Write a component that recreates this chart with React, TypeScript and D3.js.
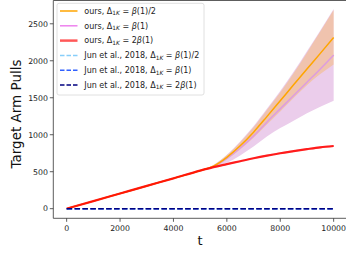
import React from "react";
import * as d3 from "d3";

const tValues = [0, 1000, 2000, 3000, 4000, 5000, 5500, 6000, 6500, 7000, 7500, 8000, 8500, 9000, 9500, 10000];
const red = [0, 102, 205, 308, 410, 515, 562, 602, 642, 682, 718, 750, 778, 805, 830, 848];
const redLow = [0, 96, 198, 300, 401, 505, 552, 592, 632, 671, 707, 738, 766, 792, 817, 835];
const redHigh = [0, 108, 212, 316, 419, 525, 572, 612, 652, 693, 729, 762, 790, 818, 843, 861];
const orange = [0, 102, 205, 308, 410, 515, 575, 695, 850, 1035, 1245, 1460, 1675, 1890, 2100, 2316];
const orangeLow = [0, 100, 203, 305, 407, 510, 563, 665, 800, 960, 1140, 1315, 1495, 1670, 1820, 1950];
const orangeHigh = [0, 104, 207, 311, 413, 520, 590, 725, 900, 1100, 1335, 1570, 1830, 2110, 2395, 2686];
const pink = [0, 102, 205, 308, 410, 515, 570, 680, 820, 985, 1170, 1350, 1530, 1710, 1890, 2077];
const pinkLow = [0, 100, 203, 305, 407, 510, 558, 620, 720, 840, 975, 1090, 1190, 1290, 1380, 1460];
const pinkHigh = [0, 104, 207, 311, 413, 520, 592, 730, 910, 1115, 1350, 1590, 1850, 2130, 2410, 2700];
const junHalf = [0, 0, 0, 0, 0, 0, 0, 0, 0, 0, 0, 0, 0, 0, 0, 0];
const junOne = [0, 0, 0, 0, 0, 0, 0, 0, 0, 0, 0, 0, 0, 0, 0, 0];
const junTwo = [0, 0, 0, 0, 0, 0, 0, 0, 0, 0, 0, 0, 0, 0, 0, 0];

const xTicks = [0, 2000, 4000, 6000, 8000, 10000];
const yTicks = [0, 500, 1000, 1500, 2000, 2500];

const FONT = "DejaVu Sans";

const x = d3.scaleLinear().domain([-500, 10500]).range([53.3, 347]);
const y = d3.scaleLinear().domain([-130, 2815]).range([218.3, 0.5]);

function lineOf(vals: number[]) {
  return d3
    .line<number>()
    .x((_, i) => x(tValues[i]))
    .y((d) => y(d))
    .curve(d3.curveMonotoneX)(vals) as string;
}
function areaOf(lo: number[], hi: number[]) {
  return d3
    .area<number>()
    .x((_, i) => x(tValues[i]))
    .y0((_, i) => y(lo[i]))
    .y1((_, i) => y(hi[i]))
    .curve(d3.curveMonotoneX)(lo) as string;
}

function Label({ prefix, suffix }: { prefix: string; suffix: string }) {
  return (
    <>
      {prefix + "Δ"}
      <tspan fontSize={5.9} dy={1.7}>1</tspan>
      <tspan fontSize={5.9} fontStyle="italic">K</tspan>
      <tspan dy={-1.7}>{" = "}</tspan>
      {suffix.startsWith("2") ? "2" : ""}
      <tspan fontStyle="italic">β</tspan>
      {suffix.replace(/^2?β/, "")}
    </>
  );
}

const legendItems = [
  { color: "orange", dash: "", w: 1.5, op: 1, prefix: "ours, ", suffix: "β(1)/2" },
  { color: "violet", dash: "", w: 1.5, op: 1, prefix: "ours, ", suffix: "β(1)" },
  { color: "red", dash: "", w: 2.5, op: 0.65, prefix: "ours, ", suffix: "2β(1)" },
  { color: "#87cefa", dash: "4.5,2", w: 1.5, op: 1, prefix: "Jun et al., 2018, ", suffix: "β(1)/2" },
  { color: "#3060ff", dash: "4.5,2", w: 1.5, op: 1, prefix: "Jun et al., 2018, ", suffix: "β(1)" },
  { color: "#000080", dash: "4.5,2", w: 1.5, op: 1, prefix: "Jun et al., 2018, ", suffix: "2β(1)" },
];

export default function App() {
  return (
    <svg
      width={346}
      height={253}
      style={{ position: "absolute", left: 0, top: 0, background: "white" }}
      fontFamily={FONT}
    >
      <rect x={0} y={0} width={346} height={253} fill="white" />
      {/* bands */}
      <path d={areaOf(pinkLow, pinkHigh)} fill="#ebcdeb" />
      <path d={areaOf(orangeLow, orangeHigh)} fill="orange" opacity={0.26} />
      <path d={areaOf(redLow, redHigh)} fill="red" opacity={0.3} />
      {/* lines */}
      <path d={lineOf(pink)} fill="none" stroke="#dd9ce0" strokeWidth={1.5} />
      <path d={lineOf(orange)} fill="none" stroke="orange" strokeWidth={1.5} />
      <path d={lineOf(red)} fill="none" stroke="red" strokeWidth={2.2} opacity={0.85} />
      <path d={lineOf(junHalf)} fill="none" stroke="#87cefa" strokeWidth={1.5} strokeDasharray="5.5,2.4" />
      <path d={lineOf(junOne)} fill="none" stroke="#3060ff" strokeWidth={1.5} strokeDasharray="5.5,2.4" />
      <path d={lineOf(junTwo)} fill="none" stroke="#000080" strokeWidth={1.5} strokeDasharray="5.5,2.4" />

      {/* spines */}
      <line x1={53.3} x2={53.3} y1={0.5} y2={218.3} stroke="#333" strokeWidth={0.8} />
      <line x1={53.3} x2={347} y1={218.3} y2={218.3} stroke="#333" strokeWidth={0.8} />
      <line x1={53.3} x2={347} y1={0.5} y2={0.5} stroke="#333" strokeWidth={0.8} />

      {/* x ticks */}
      {xTicks.map((t) => (
        <g key={t}>
          <line x1={x(t)} x2={x(t)} y1={218.3} y2={221.8} stroke="#333" strokeWidth={0.8} />
          <text x={x(t)} y={231} fontSize={7.8} textAnchor="middle" fill="#222">
            {t}
          </text>
        </g>
      ))}
      {/* y ticks */}
      {yTicks.map((t) => (
        <g key={t}>
          <line x1={49.8} x2={53.3} y1={y(t)} y2={y(t)} stroke="#333" strokeWidth={0.8} />
          <text x={48} y={y(t) + 2.8} fontSize={7.8} textAnchor="end" fill="#222">
            {t}
          </text>
        </g>
      ))}
      <text x={200} y={245} fontSize={13} textAnchor="middle" fill="#111">t</text>
      <text
        transform={`translate(21,114) rotate(-90)`}
        fontSize={13.5}
        textAnchor="middle"
        fill="#111"
      >
        Target Arm Pulls
      </text>

      {/* legend */}
      <rect x={57} y={3.3} width={147} height={91.7} rx={2} fill="white" fillOpacity={0.8} stroke="#d8d8d8" strokeWidth={0.8} />
      {legendItems.map((it, i) => {
        const ly = 11 + i * 14.8;
        return (
          <g key={i}>
            <line
              x1={60}
              x2={77.5}
              y1={ly}
              y2={ly}
              stroke={it.color}
              strokeWidth={it.w}
              opacity={it.op}
              strokeDasharray={it.dash || undefined}
            />
            <text x={84.3} y={ly + 2.7} fontSize={8} fill="#222">
              <Label prefix={it.prefix} suffix={it.suffix} />
            </text>
          </g>
        );
      })}
    </svg>
  );
}
